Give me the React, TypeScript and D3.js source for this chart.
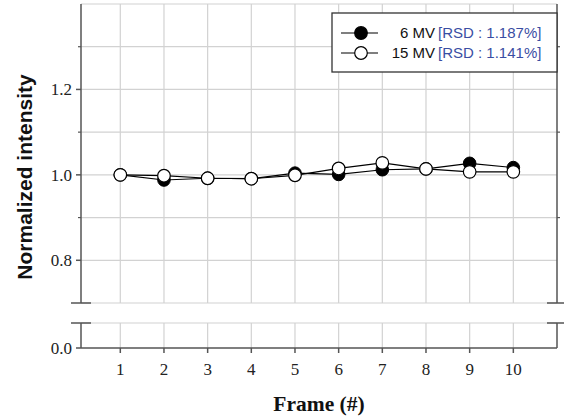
import React from 'react';
import * as d3 from 'd3';

// frame numbers and normalized intensities
const frames = [1, 2, 3, 4, 5, 6, 7, 8, 9, 10];
const mv6 = [1.0, 0.988, 0.992, 0.991, 1.004, 1.001, 1.012, 1.014, 1.027, 1.017];
const mv15 = [1.0, 0.998, 0.992, 0.991, 0.999, 1.015, 1.028, 1.014, 1.007, 1.007];

const upperTicks = [0.8, 1.0, 1.2];
const upperGrid = [0.7, 0.8, 0.9, 1.0, 1.1, 1.2, 1.3, 1.4];
const minorTicks = [0.9, 1.1, 1.3];
const lowerTicks = [0.0];

const seriesNames = ['6 MV', '15 MV'];
const seriesRsd = ['[RSD : 1.187%]', '[RSD : 1.141%]'];

const W = 564, H = 418;
const left = 81, right = 557;
const upTop = 4, upBottom = 303;
const lowTop = 323, lowBottom = 348;

const axisColor = '#555';
const gridColor = '#d2d2d2';

const App = () => {
  const x = d3.scaleLinear().domain([0.1, 11]).range([left, right]);
  const yUp = d3.scaleLinear().domain([0.7, 1.4]).range([upBottom, upTop]);
  const yLow = d3.scaleLinear().domain([0, 0.06]).range([lowBottom, lowTop]);

  const line = d3.line<number>()
    .x((d, i) => x(frames[i]))
    .y(d => yUp(d));

  return (
    <svg width={W} height={H} style={{position: 'absolute', left: 0, top: 0, background: '#fff'}}>
      {/* gridlines */}
      {frames.map(f => (
        <g key={'vg' + f}>
          <line x1={x(f)} x2={x(f)} y1={upTop} y2={upBottom} stroke={gridColor} strokeWidth={1.2} />
          <line x1={x(f)} x2={x(f)} y1={lowTop} y2={lowBottom} stroke={gridColor} strokeWidth={1.2} />
        </g>
      ))}
      {upperGrid.map(v => (
        <line key={'hg' + v} x1={left} x2={right} y1={yUp(v)} y2={yUp(v)} stroke={gridColor} strokeWidth={1.2} />
      ))}
      <line x1={left} x2={right} y1={lowTop} y2={lowTop} stroke={gridColor} strokeWidth={1.2} />

      {/* axes */}
      <line x1={left} x2={left} y1={upTop} y2={upBottom} stroke={axisColor} strokeWidth={1.5} />
      <line x1={left} x2={left} y1={lowTop} y2={lowBottom} stroke={axisColor} strokeWidth={1.5} />
      <line x1={right} x2={right} y1={upTop} y2={upBottom} stroke={axisColor} strokeWidth={1.5} />
      <line x1={right} x2={right} y1={lowTop} y2={lowBottom} stroke={axisColor} strokeWidth={1.5} />
      <line x1={left} x2={right} y1={lowBottom} y2={lowBottom} stroke={axisColor} strokeWidth={1.5} />
      {/* break marks */}
      {[upBottom, lowTop].map(y => (
        <g key={'br' + y}>
          <line x1={left - 10} x2={left + 10} y1={y} y2={y} stroke={axisColor} strokeWidth={1.5} />
          <line x1={right - 10} x2={right + 10} y1={y} y2={y} stroke={axisColor} strokeWidth={1.5} />
        </g>
      ))}

      {/* y ticks */}
      {upperTicks.map(v => (
        <g key={'yt' + v}>
          <line x1={left - 5} x2={left} y1={yUp(v)} y2={yUp(v)} stroke={axisColor} strokeWidth={1.5} />
          <text x={left - 9} y={yUp(v)} dy="0.35em" textAnchor="end" fontFamily="Liberation Serif, serif" fontSize={17} fill="#222">
            {d3.format('.1f')(v)}
          </text>
        </g>
      ))}
      {minorTicks.map(v => (
        <g key={'mt' + v}>
          <line x1={left - 3} x2={left} y1={yUp(v)} y2={yUp(v)} stroke={axisColor} strokeWidth={1.2} />
          <line x1={right} x2={right + 3} y1={yUp(v)} y2={yUp(v)} stroke={axisColor} strokeWidth={1.2} />
        </g>
      ))}
      {lowerTicks.map(v => (
        <g key={'lt' + v}>
          <line x1={left - 5} x2={left} y1={yLow(v)} y2={yLow(v)} stroke={axisColor} strokeWidth={1.5} />
          <text x={left - 9} y={yLow(v)} dy="0.35em" textAnchor="end" fontFamily="Liberation Serif, serif" fontSize={17} fill="#222">
            {d3.format('.1f')(v)}
          </text>
        </g>
      ))}

      {/* x ticks */}
      {frames.map(f => (
        <g key={'xt' + f}>
          <line x1={x(f)} x2={x(f)} y1={lowBottom} y2={lowBottom + 5} stroke={axisColor} strokeWidth={1.5} />
          <text x={x(f)} y={375} textAnchor="middle" fontFamily="Liberation Serif, serif" fontSize={17} fill="#222">{f}</text>
        </g>
      ))}

      {/* axis titles */}
      <text x={(left + right) / 2} y={411} textAnchor="middle" fontFamily="Liberation Serif, serif" fontWeight="bold" fontSize={21.5} fill="#111">
        Frame (#)
      </text>
      <text transform={`translate(32,177) rotate(-90)`} textAnchor="middle" fontFamily="Liberation Sans, Arial, sans-serif" fontWeight="bold" fontSize={21} fill="#111">
        Normalized intensity
      </text>

      {/* series */}
      <path d={line(mv6) || ''} fill="none" stroke="#000" strokeWidth={1.2} />
      <path d={line(mv15) || ''} fill="none" stroke="#000" strokeWidth={1.2} />
      {mv6.map((v, i) => (
        <circle key={'a' + i} cx={x(frames[i])} cy={yUp(v)} r={6.3} fill="#000" stroke="#000" strokeWidth={1} />
      ))}
      {mv15.map((v, i) => (
        <circle key={'b' + i} cx={x(frames[i])} cy={yUp(v)} r={6.3} fill="#fff" stroke="#000" strokeWidth={1.2} />
      ))}

      {/* legend */}
      <rect x={332} y={13} width={225} height={59} fill="#fff" stroke="#333" strokeWidth={1.3} />
      {seriesNames.map((n, i) => {
        const ly = 33 + i * 20;
        return (
          <g key={'lg' + i}>
            <line x1={341} x2={378} y1={ly} y2={ly} stroke="#000" strokeWidth={1.2} />
            <circle cx={361} cy={ly} r={6.3} fill={i === 0 ? '#000' : '#fff'} stroke="#000" strokeWidth={1.2} />
            <text x={435} y={ly} dy="0.36em" textAnchor="end" fontFamily="Liberation Sans, Arial, sans-serif" fontSize={15} fill="#111">{n}</text>
            <text x={438} y={ly} dy="0.36em" fontFamily="Liberation Sans, Arial, sans-serif" fontSize={15} fill="#3a4ea3">{seriesRsd[i]}</text>
          </g>
        );
      })}
    </svg>
  );
};

export default App;
